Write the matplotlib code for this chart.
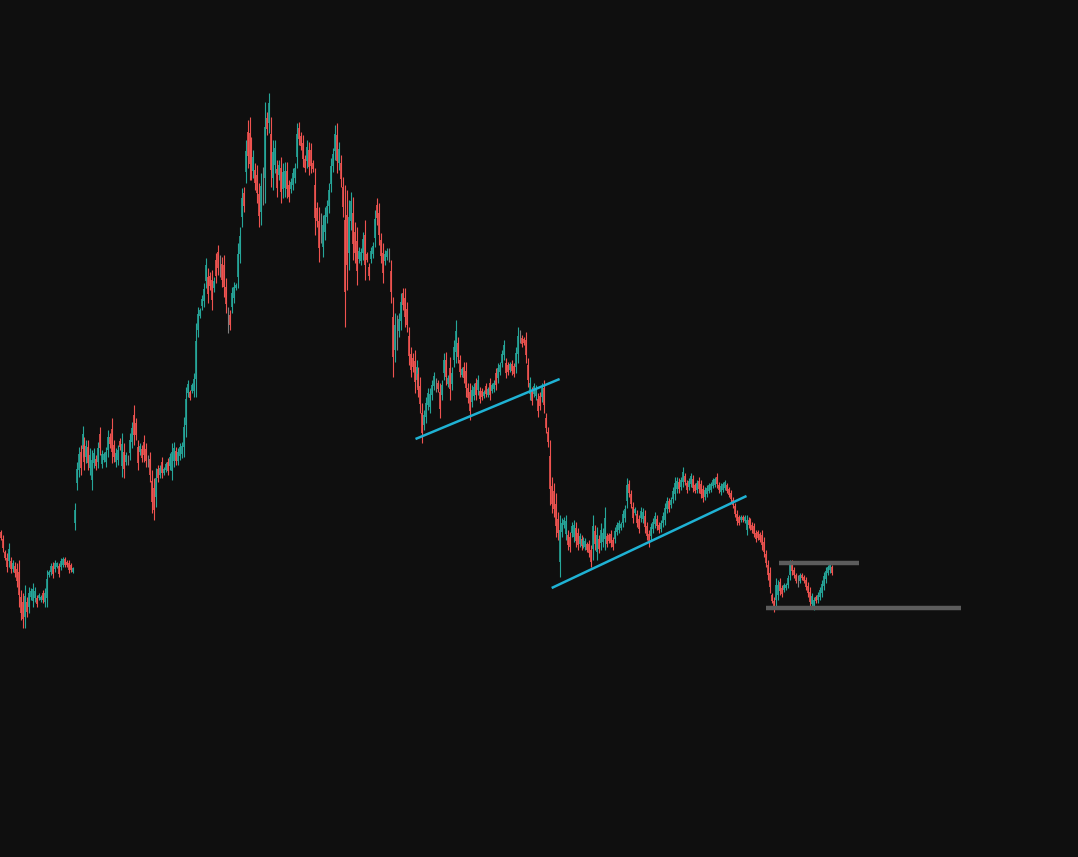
import matplotlib
matplotlib.use("Agg")
import matplotlib.pyplot as plt
import numpy as np

opens = [
368,361,348,342,339,339,331,334,331,328,
303,298,283,298,293,303,299,302,302,302,
300,307,298,302,325,328,334,331,333,334,
333,335,341,338,337,335,328,377,417,430,
448,451,455,443,453,432,420,437,441,438,
466,436,440,438,450,463,471,455,438,440,
459,434,448,438,440,447,458,485,477,453,
448,451,458,451,439,441,419,412,403,431,
425,438,427,430,438,434,429,439,449,439,
444,446,453,475,507,508,509,509,521,570,
584,594,599,619,623,624,620,612,640,648,
634,636,635,613,580,585,593,602,612,623,
646,683,707,728,768,767,752,729,730,725,
706,688,714,722,782,777,766,722,
735,731,725,732,711,
712,729,715,
711,
715,722,743,772,764,757,741,739,750,750,
737,715,692,
679,672,653,668,683,
694,716,734,
749,765,737,737,713,680,685,647,679,687,668,659,641,639,
647,665,646,633,641,646,662,695,687,660,
647,639,643,645,629,583,550,567,569,579,
607,602,591,564,546,542,539,520,526,514,
487,475,483,495,493,505,514,515,517,508,
505,527,540,516,532,516,540,548,557,540,
525,533,529,512,508,498,504,517,510,509,
509,504,514,505,517,509,511,527,522,528,
537,545,537,535,530,536,534,533,546,563,
562,561,560,535,506,509,506,504,501,504,
503,512,482,468,444,414,409,396,381,338,
368,375,366,365,363,367,363,372,367,356,
361,355,353,356,356,350,351,369,348,361,
357,358,361,364,365,366,360,361,368,370,
372,377,382,399,416,406,393,387,386,381,
382,381,384,374,366,364,371,376,381,375,
371,377,380,391,399,395,401,406,411,418,
413,418,424,417,413,416,421,415,410,419,
416,411,403,406,409,410,414,415,423,415,
408,410,412,415,411,407,400,394,386,383,
380,383,379,370,380,379,375,374,367,368,
366,365,358,346,335,327,305,299,300,305,
318,312,310,312,315,325,336,330,325,319,
319,325,323,320,314,308,296,293,303,300,
303,307,314,321,327,330,333,
]

highs = [
370,365,350,347,357,343,340,338,337,340,
310,307,315,303,313,312,317,313,305,307,
305,310,312,330,330,337,338,340,338,337,
342,343,343,340,340,337,333,397,438,453,
455,474,463,460,460,452,450,452,445,458,
473,450,448,453,470,467,482,460,452,455,
462,467,457,448,445,467,478,495,482,460,
457,455,465,457,445,448,430,422,432,435,
435,443,433,438,442,447,457,458,453,452,
457,458,483,513,520,510,517,527,577,593,
592,605,617,642,632,628,630,623,647,655,
645,643,645,622,593,590,613,618,617,657,
673,712,713,760,780,783,763,750,737,735,
717,727,733,798,788,807,783,760,
760,740,740,743,737,
738,738,720,
722,
732,737,777,778,768,765,745,760,758,757,
740,732,698,
693,687,685,693,700,
717,742,752,
775,777,758,745,723,715,710,700,708,703,678,673,653,652,
668,680,648,637,653,658,690,702,697,667,
657,650,652,652,640,603,587,585,587,607,
612,612,598,573,553,547,550,540,533,523,
497,490,503,512,512,520,528,522,520,517,
520,547,548,525,543,533,560,580,563,545,
533,538,538,517,517,515,517,522,525,513,
512,510,517,513,522,517,520,532,537,538,
550,560,542,538,538,540,537,553,573,570,
565,563,568,542,523,513,517,515,507,508,
517,520,487,473,460,423,417,407,388,385,
382,383,385,370,368,378,380,378,372,367,
365,363,362,358,360,355,385,375,373,365,
377,372,393,367,367,370,363,373,378,380,
378,390,395,422,420,410,398,393,390,385,
393,392,390,378,370,377,382,388,385,378,
380,388,397,403,402,403,413,423,423,422,
423,433,427,420,422,427,425,417,420,423,
420,415,413,415,417,418,422,423,427,418,
417,418,420,417,413,410,403,397,390,385,
385,385,385,385,383,382,378,377,370,370,
368,370,363,350,340,333,307,303,322,320,
322,315,317,317,325,340,340,333,327,325,
327,327,325,323,318,313,307,303,305,308,
313,320,328,333,335,338,335,
]

lows = [
360,348,340,328,333,327,328,323,313,293,
280,272,272,283,287,300,293,298,293,300,
298,297,293,293,323,325,322,328,332,323,
330,333,333,333,327,328,327,370,410,423,
425,443,430,437,430,425,410,432,430,432,
445,432,438,433,443,452,437,438,433,435,
450,423,422,435,435,440,452,455,460,430,
445,438,438,433,433,418,387,380,393,418,
422,422,425,428,425,430,420,433,435,435,
440,442,443,463,503,500,507,503,503,563,
582,590,593,612,597,610,590,608,617,625,
623,613,603,587,567,570,587,597,610,612,
637,673,688,717,732,720,720,722,710,697,
673,675,695,697,765,767,713,710,
727,703,720,697,702,
703,702,698,
707,
710,717,732,755,750,733,728,732,725,727,
728,665,673,
638,657,643,660,677,
687,708,728,
740,727,730,713,683,573,610,630,670,640,637,615,637,635,
640,620,638,620,637,642,653,675,655,637,
617,635,640,638,597,523,538,550,563,570,
590,573,568,535,523,528,507,513,503,487,
457,470,477,490,487,500,510,508,508,482,
500,520,515,513,500,510,533,537,537,523,
523,517,503,497,480,493,500,500,505,497,
500,502,503,503,500,507,508,510,517,525,
533,540,522,525,528,525,523,527,537,557,
553,555,537,513,500,495,503,500,483,490,
498,487,467,453,395,387,383,363,360,323,
363,372,360,350,348,363,358,353,350,353,
350,352,350,348,343,333,340,350,340,347,
350,353,350,353,357,353,350,357,365,367,
370,373,378,392,403,392,377,385,373,367,
378,377,367,360,353,360,367,372,370,367,
368,373,375,387,388,392,397,400,407,407,
410,413,415,407,410,413,408,407,407,407,
402,398,400,403,407,408,412,413,412,407,
405,408,410,407,403,398,392,383,375,375,
378,378,377,365,372,370,367,363,358,360,
358,350,343,333,320,307,297,288,293,300,
305,303,308,310,312,320,325,322,317,313,
317,320,317,310,303,293,293,290,297,297,
300,303,310,317,325,327,325,
]

closes = [
362,352,342,333,351,331,337,327,319,305,
287,281,304,288,307,309,311,309,296,305,
303,300,307,321,328,334,326,337,337,326,
339,341,335,335,330,330,332,390,431,446,
432,466,438,454,437,445,440,447,434,452,
452,446,446,448,463,456,448,443,447,450,
453,456,431,445,440,460,472,465,465,437,
454,442,445,439,439,425,398,390,422,422,
432,427,431,436,429,443,448,452,439,448,
453,454,473,501,516,502,515,521,559,586,
590,601,611,635,606,614,600,619,624,632,
634,620,613,596,580,575,607,613,615,646,
664,702,694,749,744,736,731,743,717,707,
684,714,714,773,771,797,730,748,
752,712,735,708,728,
729,711,703,
718,
727,732,766,761,754,741,732,753,733,734,
731,682,679,
652,672,675,685,694,
710,734,746,
766,739,751,721,693,608,635,683,699,656,647,629,649,648,
661,635,640,624,649,654,681,682,665,644,
627,646,649,645,608,543,575,567,581,598,
595,583,575,544,530,533,518,533,510,496,
467,485,497,507,506,515,524,515,511,491,
515,540,523,522,511,527,553,569,543,528,
531,522,512,502,489,510,513,505,520,501,
503,508,506,511,505,515,517,515,532,535,
546,555,527,528,536,529,526,547,564,563,
556,557,545,520,517,499,514,511,489,494,
512,495,472,458,411,396,391,374,367,370,
377,380,379,355,353,374,375,359,355,364,
354,360,359,350,347,338,374,356,365,351,
370,367,382,356,359,357,353,369,375,377,
376,386,391,415,407,396,382,391,377,371,
389,388,373,364,357,373,378,384,374,370,
377,384,392,399,391,400,409,417,419,411,
420,428,418,410,419,424,412,409,417,411,
406,402,410,412,415,416,420,421,416,410,
414,416,418,409,405,401,395,386,379,377,
383,380,383,380,375,373,370,366,361,362,
360,355,348,337,325,313,299,292,315,315,
309,306,315,315,322,335,329,325,319,319,
325,322,319,313,307,298,304,300,299,305,
310,316,324,329,333,335,327,
]

# drawings (candle index, price)
trend1_x = [208.5, 281.0]
trend1_y = [461, 521]
trend2_x = [277.0, 375.0]
trend2_y = [312, 404]
level_top_x = [391.5, 431.5]
level_top_y = [337, 337]
level_bot_x = [385.0, 483.0]
level_bot_y = [292, 292]

BG = "#0f0f0f"
UP = "#26a69a"
DOWN = "#ef5350"
FLAT = "#808080"

n = min(len(opens), len(highs), len(lows), len(closes))
o = np.array(opens[:n], float)
h = np.array(highs[:n], float)
l = np.array(lows[:n], float)
c = np.array(closes[:n], float)
x = np.arange(n)

cols = np.where(c > o, UP, np.where(c < o, DOWN, FLAT))

fig = plt.figure(figsize=(10.78, 8.57), dpi=100, facecolor=BG)
ax = fig.add_axes([0, 0, 1, 1])
ax.set_facecolor(BG)

ax.vlines(x, l, h, colors=cols, linewidth=0.8)
body_lo = np.minimum(o, c)
body_hi = np.maximum(o, c)
ax.vlines(x, body_lo, body_hi, colors=cols, linewidth=1.2)

ax.plot(trend1_x, trend1_y, color="#1fb2d4", linewidth=1.8, solid_capstyle="butt")
ax.plot(trend2_x, trend2_y, color="#1fb2d4", linewidth=1.8, solid_capstyle="butt")
ax.plot(level_top_x, level_top_y, color="#5c5c5c", linewidth=3.2, solid_capstyle="butt")
ax.plot(level_bot_x, level_bot_y, color="#5c5c5c", linewidth=3.2, solid_capstyle="butt")

step = 831.0 / (n - 1)
left = -1.0 / step
ax.set_xlim(left, left + 1078.0 / step)
ax.set_ylim(43, 900)
ax.axis("off")

fig.savefig("out.png", dpi=100, facecolor=BG)
